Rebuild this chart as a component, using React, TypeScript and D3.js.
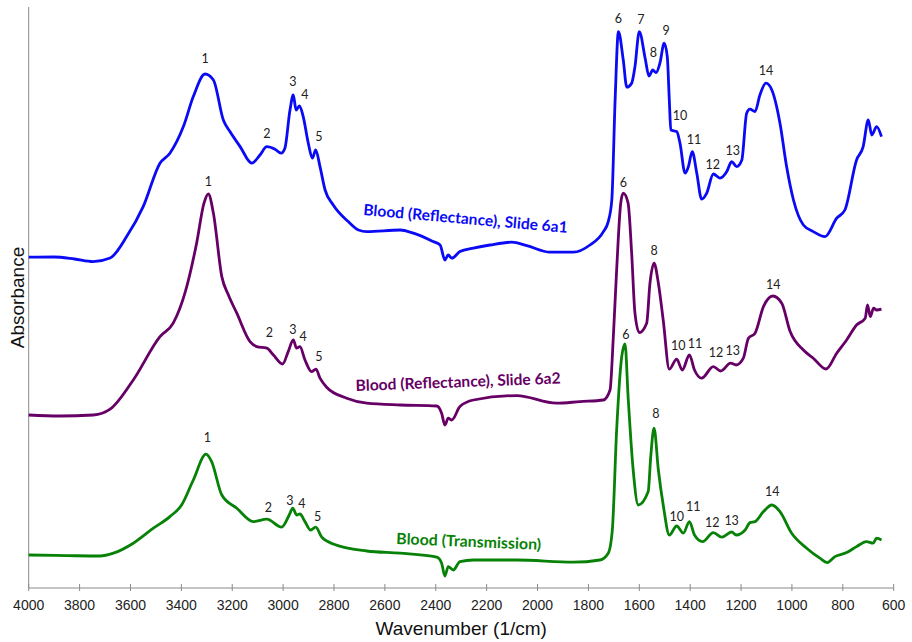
import * as d3 from "d3";

// FTIR spectra of blood, three measurements stacked with an offset.
// Values: [wavenumber (1/cm), absorbance (a.u., offset)]
const SLIDE_6A1: [number, number][] = [
  [4000, 1.654], [3900, 1.655], [3820, 1.645], [3747, 1.632], [3680, 1.65], [3615, 1.757],
  [3550, 1.907], [3484, 2.124], [3445, 2.174], [3392, 2.307], [3353, 2.457], [3307, 2.57],
  [3274, 2.54], [3235, 2.34], [3209, 2.282], [3169, 2.207], [3123, 2.124], [3091, 2.165],
  [3064, 2.207], [3032, 2.194], [3008, 2.174], [2993, 2.199], [2973, 2.39], [2960, 2.465],
  [2949, 2.39], [2936, 2.41], [2921, 2.357], [2901, 2.224], [2885, 2.149], [2872, 2.19],
  [2855, 2.107], [2835, 1.99], [2803, 1.915], [2744, 1.832], [2704, 1.79], [2671, 1.782],
  [2540, 1.79], [2488, 1.774], [2410, 1.732], [2383, 1.715], [2364, 1.64], [2351, 1.665],
  [2337, 1.649], [2305, 1.682], [2252, 1.699], [2187, 1.715], [2101, 1.729], [2042, 1.712],
  [1951, 1.679], [1859, 1.679], [1794, 1.715], [1741, 1.782], [1722, 1.832], [1708, 1.94],
  [1695, 2.44], [1682, 2.782], [1663, 2.64], [1649, 2.504], [1630, 2.524], [1617, 2.607],
  [1600, 2.782], [1577, 2.649], [1562, 2.56], [1547, 2.59], [1534, 2.577], [1519, 2.624],
  [1502, 2.724], [1490, 2.657], [1482, 2.44], [1476, 2.29], [1453, 2.282], [1440, 2.224],
  [1420, 2.074], [1407, 2.107], [1392, 2.182], [1374, 2.074], [1355, 1.944], [1335, 1.974],
  [1309, 2.07], [1283, 2.049], [1256, 2.082], [1237, 2.132], [1217, 2.107], [1197, 2.14],
  [1178, 2.374], [1165, 2.394], [1145, 2.382], [1126, 2.465], [1102, 2.524], [1079, 2.49],
  [1047, 2.324], [1021, 2.107], [994, 1.94], [955, 1.815], [916, 1.782], [870, 1.757],
  [824, 1.849], [792, 1.89], [746, 2.14], [720, 2.207], [700, 2.34], [686, 2.265],
  [667, 2.307], [648, 2.257],
];

const SLIDE_6A2: [number, number][] = [
  [4000, 0.865], [3880, 0.86], [3746, 0.865], [3680, 0.894], [3589, 1.04], [3484, 1.257],
  [3432, 1.324], [3386, 1.474], [3340, 1.724], [3311, 1.924], [3294, 1.97], [3274, 1.874],
  [3241, 1.557], [3215, 1.465], [3182, 1.374], [3130, 1.232], [3104, 1.207], [3064, 1.199],
  [3038, 1.165], [3002, 1.12], [2980, 1.182], [2960, 1.24], [2947, 1.199], [2934, 1.207],
  [2914, 1.14], [2888, 1.082], [2871, 1.094], [2855, 1.049], [2829, 1.004], [2750, 0.949],
  [2671, 0.924], [2540, 0.915], [2396, 0.91], [2377, 0.874], [2364, 0.815], [2351, 0.849],
  [2337, 0.84], [2305, 0.907], [2252, 0.94], [2082, 0.962], [1925, 0.924], [1833, 0.932],
  [1741, 0.94], [1715, 0.99], [1702, 1.257], [1689, 1.59], [1673, 1.924], [1663, 1.974],
  [1644, 1.924], [1630, 1.674], [1617, 1.374], [1600, 1.277], [1571, 1.324], [1558, 1.524],
  [1542, 1.624], [1525, 1.524], [1506, 1.34], [1482, 1.094], [1453, 1.144], [1431, 1.09],
  [1403, 1.165], [1383, 1.09], [1355, 1.049], [1309, 1.107], [1280, 1.085], [1241, 1.124],
  [1219, 1.115], [1191, 1.149], [1171, 1.249], [1145, 1.274], [1112, 1.407], [1075, 1.46],
  [1040, 1.424], [1007, 1.282], [955, 1.19], [916, 1.149], [866, 1.095], [824, 1.174],
  [785, 1.24], [746, 1.315], [712, 1.349], [703, 1.415], [692, 1.357], [679, 1.399],
  [667, 1.39], [648, 1.394],
];

const TRANSMISSION: [number, number][] = [
  [4000, 0.165], [3850, 0.162], [3720, 0.16], [3667, 0.174], [3589, 0.224], [3510, 0.299],
  [3445, 0.357], [3399, 0.415], [3353, 0.54], [3303, 0.669], [3281, 0.632], [3241, 0.465],
  [3182, 0.399], [3117, 0.332], [3064, 0.344], [3006, 0.304], [2976, 0.365], [2962, 0.399],
  [2947, 0.365], [2934, 0.37], [2914, 0.332], [2892, 0.29], [2872, 0.304], [2848, 0.254],
  [2803, 0.22], [2671, 0.185], [2540, 0.174], [2396, 0.154], [2377, 0.124], [2364, 0.06],
  [2351, 0.107], [2331, 0.09], [2305, 0.132], [2252, 0.14], [2082, 0.14], [1859, 0.129],
  [1755, 0.14], [1722, 0.174], [1706, 0.29], [1689, 0.79], [1669, 1.157], [1656, 1.22],
  [1644, 0.957], [1624, 0.59], [1604, 0.415], [1565, 0.482], [1555, 0.657], [1542, 0.799],
  [1525, 0.59], [1505, 0.407], [1482, 0.265], [1453, 0.31], [1427, 0.274], [1403, 0.332],
  [1383, 0.265], [1351, 0.232], [1309, 0.277], [1276, 0.254], [1237, 0.28], [1219, 0.265],
  [1184, 0.29], [1165, 0.327], [1145, 0.332], [1112, 0.382], [1079, 0.415], [1047, 0.382],
  [1001, 0.274], [942, 0.199], [890, 0.149], [861, 0.127], [831, 0.157], [785, 0.177],
  [746, 0.207], [707, 0.232], [681, 0.224], [667, 0.249], [648, 0.24],
];

// Peak numbering: [label, wavenumber, absorbance of label centre]
const PEAKS_6A1: [string, number, number][] = [
  ["1", 3307, 2.65], ["2", 3064, 2.274], ["3", 2962, 2.535], ["4", 2914, 2.47], ["5", 2859, 2.257],
  ["6", 1682, 2.849], ["7", 1594, 2.844], ["8", 1545, 2.677], ["9", 1495, 2.79], ["10", 1440, 2.365],
  ["11", 1385, 2.244], ["12", 1311, 2.119], ["13", 1233, 2.187], ["14", 1102, 2.587],
];
const PEAKS_6A2: [string, number, number][] = [
  ["1", 3294, 2.032], ["2", 3054, 1.277], ["3", 2962, 1.294], ["4", 2921, 1.26], ["5", 2859, 1.16],
  ["6", 1663, 2.027], ["8", 1542, 1.69], ["10", 1447, 1.212], ["11", 1381, 1.224],
  ["12", 1298, 1.177], ["13", 1233, 1.19], ["14", 1073, 1.519],
];
const PEAKS_TRANS: [string, number, number][] = [
  ["1", 3298, 0.754], ["2", 3058, 0.404], ["3", 2973, 0.44], ["4", 2926, 0.424], ["5", 2864, 0.36],
  ["6", 1653, 1.27], ["8", 1535, 0.874], ["10", 1453, 0.357], ["11", 1388, 0.407],
  ["12", 1313, 0.327], ["13", 1237, 0.337], ["14", 1077, 0.482],
];

const X_TICKS = [4000, 3800, 3600, 3400, 3200, 3000, 2800, 2600, 2400, 2200, 2000, 1800, 1600, 1400, 1200, 1000, 800, 600];

const SERIES = [
  { name: "Blood (Reflectance), Slide 6a1", color: "#0a0af5", data: SLIDE_6A1, peaks: PEAKS_6A1,
    label: { wn: 2686, a: 1.865, rot: 5, len: 205 } },
  { name: "Blood (Reflectance), Slide 6a2", color: "#660066", data: SLIDE_6A2, peaks: PEAKS_6A2,
    label: { wn: 2714, a: 0.985, rot: -2.1, len: 205 } },
  { name: "Blood (Transmission)", color: "#078207", data: TRANSMISSION, peaks: PEAKS_TRANS,
    label: { wn: 2556, a: 0.22, rot: 2.3, len: 145 } },
];

const W = 912;
const H = 642;
const margin = { left: 28.7, right: 18.3, top: 7, bottom: 54 };

export default function App() {
  const x = d3.scaleLinear().domain([4000, 600]).range([margin.left, W - margin.right]);
  const y = d3.scaleLinear().domain([0, 2.905]).range([H - margin.bottom, margin.top]);
  const line = d3
    .line<[number, number]>()
    .x((d) => x(d[0]))
    .y((d) => y(d[1]))
    .curve(d3.curveMonotoneX);

  const axisY = H - margin.bottom;
  const axisFont = "'Liberation Sans', Arial, sans-serif";
  const labelFont = "Lato, 'Open Sans', sans-serif";

  return (
    <svg
      width={W}
      height={H}
      style={{ position: "absolute", left: 0, top: 0, background: "#fff" }}
    >
      {/* axes */}
      <line x1={margin.left} x2={margin.left} y1={margin.top} y2={axisY} stroke="#8a8a8a" strokeWidth={1} />
      <line x1={margin.left} x2={W - margin.right} y1={axisY} y2={axisY} stroke="#8a8a8a" strokeWidth={1} />
      {X_TICKS.map((t) => (
        <g key={t}>
          <line x1={x(t)} x2={x(t)} y1={axisY - 4} y2={axisY + 3} stroke="#8a8a8a" strokeWidth={1} />
          <text x={x(t)} y={axisY + 22} textAnchor="middle" fontSize={14} fontFamily={axisFont} fill="#222">
            {t}
          </text>
        </g>
      ))}
      <text x={(margin.left + W - margin.right) / 2} y={635} textAnchor="middle" fontSize={19} fontFamily={axisFont} fill="#111">
        Wavenumber (1/cm)
      </text>
      <text
        transform={`translate(24,${(margin.top + axisY) / 2}) rotate(-90)`}
        textAnchor="middle"
        fontSize={19}
        fontFamily={axisFont}
        fill="#111"
      >
        Absorbance
      </text>

      {/* spectra */}
      {SERIES.map((s) => (
        <g key={s.name}>
          <path d={line(s.data) || ""} fill="none" stroke={s.color} strokeWidth={2.8} strokeLinejoin="round" />
          {s.peaks.map(([lab, wn, a]) => (
            <text
              key={lab}
              x={x(wn)}
              y={y(a)}
              textAnchor="middle"
              dominantBaseline="central"
              fontSize={12.5}
              fontFamily={labelFont}
              fill="#222"
            >
              {lab}
            </text>
          ))}
          <text
            transform={`translate(${x(s.label.wn)},${y(s.label.a)}) rotate(${s.label.rot})`}
            fontSize={15.5}
            fontWeight="bold"
            fontFamily={labelFont}
            fill={s.color}
            textLength={s.label.len}
            lengthAdjust="spacingAndGlyphs"
          >
            {s.name}
          </text>
        </g>
      ))}
    </svg>
  );
}
